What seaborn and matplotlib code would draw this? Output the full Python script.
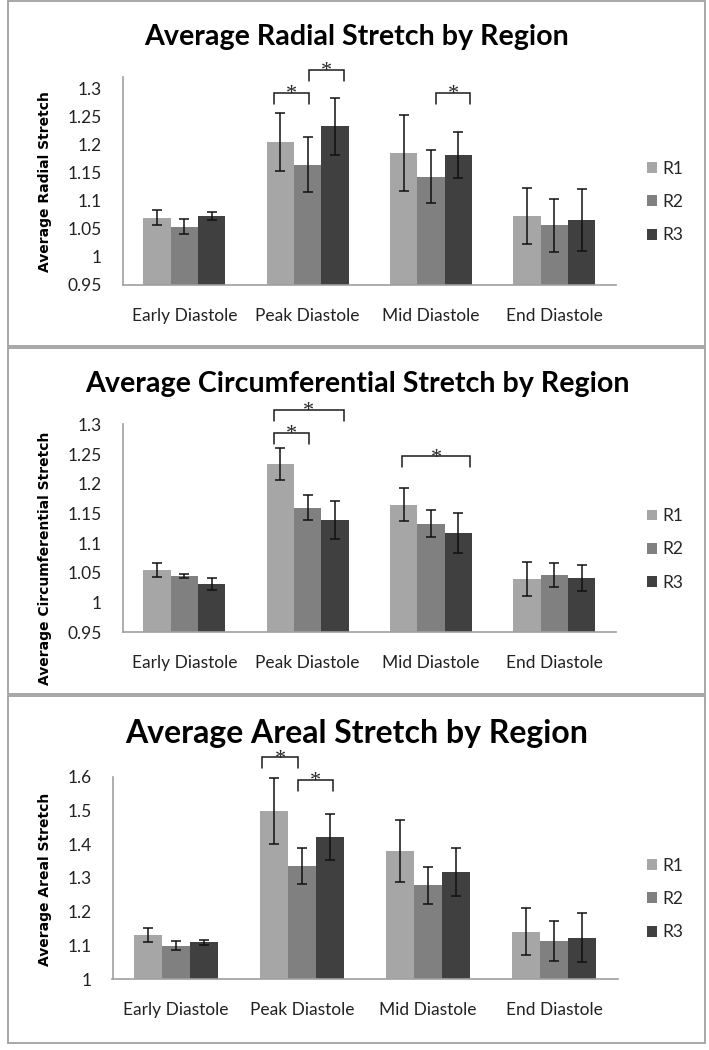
import pandas as pd
import matplotlib
matplotlib.use("Agg")
import matplotlib.pyplot as plt
from matplotlib.patches import Rectangle
import seaborn as sns

# Phases and regions
phases = ['Early Diastole', 'Peak Diastole', 'Mid Diastole', 'End Diastole']
regions = ['R1', 'R2', 'R3']

# Mean stretch, one row per region (R1, R2, R3), one value per phase
radial_mean = [[1.070, 1.204, 1.185, 1.073],
               [1.054, 1.164, 1.143, 1.056],
               [1.073, 1.232, 1.182, 1.066]]
radial_err = [[0.014, 0.052, 0.067, 0.050],
              [0.013, 0.049, 0.047, 0.047],
              [0.007, 0.051, 0.041, 0.055]]

circ_mean = [[1.055, 1.233, 1.165, 1.040],
             [1.045, 1.160, 1.133, 1.047],
             [1.032, 1.139, 1.117, 1.042]]
circ_err = [[0.012, 0.027, 0.028, 0.028],
            [0.003, 0.021, 0.023, 0.020],
            [0.010, 0.032, 0.033, 0.022]]

areal_mean = [[1.131, 1.498, 1.381, 1.141],
              [1.100, 1.336, 1.278, 1.114],
              [1.110, 1.422, 1.318, 1.123]]
areal_err = [[0.022, 0.098, 0.092, 0.069],
             [0.013, 0.053, 0.054, 0.060],
             [0.007, 0.068, 0.070, 0.072]]

# significance brackets: (phase index, region i, region j, bracket height)
radial_sig = [(1, 0, 1, 1.292), (1, 1, 2, 1.333), (2, 1, 2, 1.292)]
circ_sig = [(1, 0, 2, 1.324), (1, 0, 1, 1.285), (2, 0, 2, 1.246)]
areal_sig = [(1, 0, 1, 1.657), (1, 1, 2, 1.590)]
# bracket end offsets in bar widths (hand drawn in the original)
radial_off = [(-0.24, 0.06), (0.06, 0.33), (0.17, 0.44)]
circ_off = [(-0.24, 0.33), (-0.24, 0.06), (-0.07, 0.44)]
areal_off = [(-0.42, -0.14), (-0.14, 0.11)]

colors = ['#a6a6a6', '#808080', '#404040']

sns.set_style('white')
plt.rcParams['font.family'] = ['Lato', 'DejaVu Sans']

W, H = 709, 1050
fig = plt.figure(figsize=(W / 100, H / 100), dpi=100)


def px_axes(left, top, right, bottom):
    return fig.add_axes([left / W, 1 - bottom / H, (right - left) / W, (bottom - top) / H])


def draw_panel(box, title, title_y, title_size, ylabel, ylabel_y, means, errs,
               ylim, yticks, sigs, offs, legend_y):
    ax = px_axes(*box)
    df = pd.DataFrame({
        'phase': [p for r in regions for p in phases],
        'region': [r for r in regions for p in phases],
        'value': [v for row in means for v in row],
    })
    sns.barplot(data=df, x='phase', y='value', hue='region', palette=colors,
                width=0.665, errorbar=None, saturation=1, linewidth=0, ax=ax)

    # error bars at the bar centres
    bar_conts = list(ax.containers)
    centers = []
    for k, cont in enumerate(bar_conts):
        xs = [b.get_x() + b.get_width() / 2 for b in cont]
        centers.append(xs)
        ax.errorbar(xs, means[k], yerr=errs[k], fmt='none', ecolor='#111111',
                    elinewidth=1.1, capsize=3.4, capthick=1.1, zorder=4)
    bw = bar_conts[0][0].get_width()

    ax.set_ylim(*ylim)
    ax.set_yticks(yticks)
    ax.set_yticklabels(['%g' % t for t in yticks])
    ax.set_xlim(-0.5, 3.5)
    ax.set_xlabel('')
    ax.set_ylabel('')
    ax.set_xticks([-0.5, 0.5, 1.5, 2.5, 3.5], minor=True)
    ax.tick_params(axis='x', which='major', length=0, pad=16.5, labelsize=12.5, colors='#222222')
    ax.tick_params(axis='x', which='minor', length=6, width=1, color='#a0a0a0', direction='out')
    ax.tick_params(axis='y', length=6, width=1, color='#a0a0a0', direction='out', pad=9,
                   labelsize=12.5, labelcolor='#222222')
    for s in ['top', 'right']:
        ax.spines[s].set_visible(False)
    for s in ['left', 'bottom']:
        ax.spines[s].set_color('#a0a0a0')
        ax.spines[s].set_linewidth(1.2)

    # significance brackets
    drop = (ylim[1] - ylim[0]) * 11 / (box[3] - box[1])
    for (p, i, j, y), (o1, o2) in zip(sigs, offs):
        x1 = centers[i][p] + o1 * bw
        x2 = centers[j][p] + o2 * bw
        ax.plot([x1, x1, x2, x2], [y - drop, y, y, y - drop], color='#1a1a1a',
                lw=1.1, clip_on=False, solid_joinstyle='miter')
        ax.annotate('*', xy=((x1 + x2) / 2, y), xytext=(0, -4.5), textcoords='offset points',
                    ha='center', va='baseline', fontsize=16, family='Liberation Serif',
                    annotation_clip=False)

    leg = ax.get_legend()
    handles = leg.legend_handles
    labels = [t.get_text() for t in leg.get_texts()]
    ax.legend(handles, labels, loc='center left', bbox_to_anchor=(647 / W, 1 - legend_y / H),
              bbox_transform=fig.transFigure, frameon=False, fontsize=12.5,
              handlelength=0.58, handleheight=0.58, handletextpad=0.3,
              labelspacing=1.0, borderpad=0, borderaxespad=0)

    fig.text(357 / W, 1 - title_y / H, title, ha='center', va='baseline',
             fontsize=title_size, fontweight='bold', color='black')
    fig.text(45 / W, 1 - ylabel_y / H, ylabel, ha='center', va='center', rotation=90,
             fontsize=10, fontweight='bold', family='DejaVu Sans', color='black')
    return ax


draw_panel((122.7, 77, 616, 285), 'Average Radial Stretch by Region', 45, 20.6,
           'Average Radial Stretch', 182, radial_mean, radial_err,
           (0.95, 1.32), [0.95, 1.0, 1.05, 1.1, 1.15, 1.2, 1.25, 1.3],
           radial_sig, radial_off, 202)
draw_panel((122.7, 424.3, 616, 632.4), 'Average Circumferential Stretch by Region', 391.7, 20.6,
           'Average Circumferential Stretch', 558.5, circ_mean, circ_err,
           (0.95, 1.30), [0.95, 1.0, 1.05, 1.1, 1.15, 1.2, 1.25, 1.3],
           circ_sig, circ_off, 549.5)
draw_panel((112.5, 776.7, 617.6, 979.3), 'Average Areal Stretch by Region', 743, 23,
           'Average Areal Stretch', 879, areal_mean, areal_err,
           (1.0, 1.6), [1.0, 1.1, 1.2, 1.3, 1.4, 1.5, 1.6],
           areal_sig, areal_off, 899)

# panel frames
for top, bottom in [(1, 346), (348, 694), (696, 1043)]:
    fig.patches.append(Rectangle((8 / W, 1 - bottom / H), (705 - 8) / W, (bottom - top) / H,
                                 transform=fig.transFigure, fill=False,
                                 edgecolor='#a0a0a0', linewidth=1.3))

fig.savefig('out.png', dpi=100)
